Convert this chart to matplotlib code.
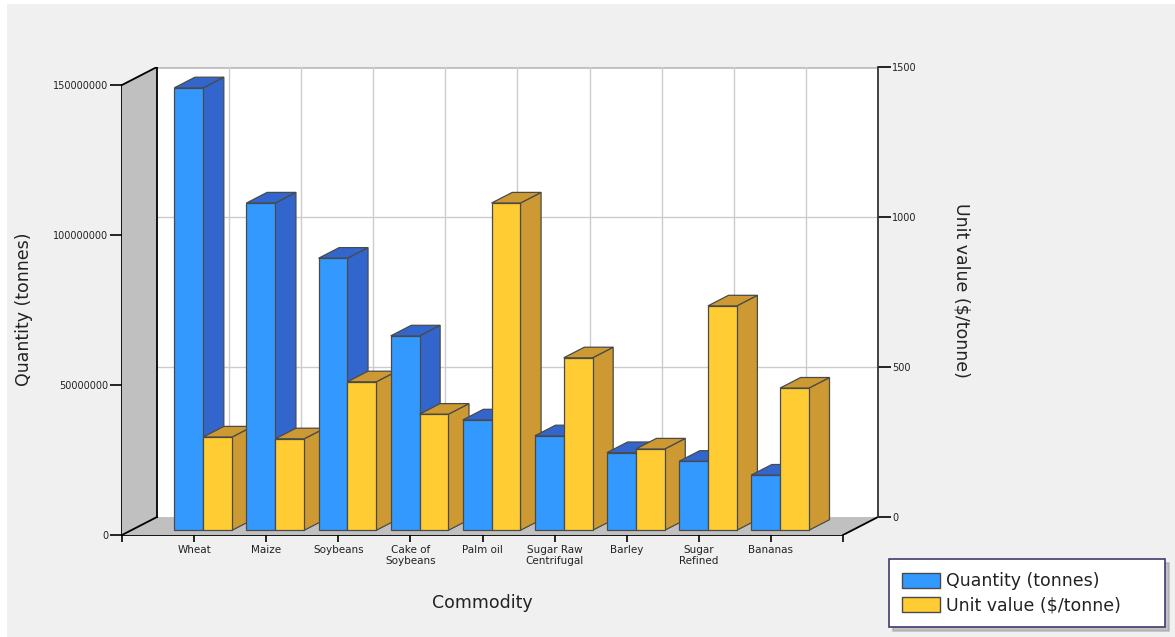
import matplotlib.pyplot as plt
from matplotlib.patches import Polygon, Patch, Rectangle

commodities = ['Wheat', 'Maize', 'Soybeans', 'Cake of\nSoybeans', 'Palm oil',
               'Sugar Raw\nCentrifugal', 'Barley', 'Sugar\nRefined', 'Bananas']
quantity = [147.5e6, 109.1e6, 90.7e6, 64.8e6, 36.8e6, 31.5e6, 25.9e6, 23.0e6, 18.4e6]
unit_value = [311, 305, 495, 387, 1091, 575, 271, 748, 474]
q_ticks = [0, 50e6, 100e6, 150e6]
q_labels = ['0', '50000000', '100000000', '150000000']
v_ticks = [0, 500, 1000, 1500]

# fake 3d: depth shift of the back wall
dx = 0.485     # in category units
dyq = 6e6      # on quantity scale
dyv = 60       # on unit value scale
z0, z1 = 0.26, 0.85   # depth of bar front / back
w = 0.4

blue, blue_d = '#3399ff', '#3366cc'
yel, yel_d = '#ffcc33', '#cc9933'
edge = '#4a4a4a'
txt = '#222222'

fig = plt.figure(figsize=(11.75, 6.37), dpi=100, facecolor='white')
fig.patches.append(Rectangle((7 / 1175, 0), 1, 633 / 637, transform=fig.transFigure,
                             facecolor='#f0f0f0', edgecolor='none', zorder=-10))
ax = fig.add_axes([122 / 1175, 102 / 637, 756 / 1175, 468 / 637])
ax.patch.set_visible(False)
ax2 = ax.twinx()
ax.set_xlim(0, 10 + dx)
ax.set_ylim(0, 150e6 + dyq)
ax2.set_ylim(-dyv, 1500)

# back wall + grid
ax.add_patch(Polygon([(dx, dyq), (10 + dx, dyq), (10 + dx, 150e6 + dyq), (dx, 150e6 + dyq)],
                     facecolor='white', edgecolor='none', zorder=1))
for q in q_ticks[1:-1]:
    ax.plot([dx, 10 + dx], [q + dyq] * 2, color='#cccccc', lw=1, zorder=2)
ax.plot([dx, 10 + dx], [150e6 + dyq] * 2, color='#c0c0c0', lw=2, zorder=2)
for k in range(1, 10):
    ax.plot([dx + k] * 2, [dyq, 150e6 + dyq], color='#cccccc', lw=1, zorder=2)

# left wall and floor
ax.add_patch(Polygon([(0, 0), (dx, dyq), (dx, 150e6 + dyq), (0, 150e6)],
                     facecolor='#c0c0c0', edgecolor='none', zorder=3))
ax.add_patch(Polygon([(0, 0), (10, 0), (10 + dx, dyq), (dx, dyq)],
                     facecolor='#c0c0c0', edgecolor='none', zorder=3))
ax.plot([0, dx], [150e6, 150e6 + dyq], color='black', lw=1.3, zorder=4)
ax.plot([dx, dx], [dyq, 150e6 + dyq], color='black', lw=1.3, zorder=4)
ax.plot([0, dx], [0, dyq], color='black', lw=1.3, zorder=4)
ax.plot([10, 10 + dx], [0, dyq], color='black', lw=1.3, zorder=4)


def box(xl, xr, val, base, dy, tr, c_front, c_dark, zo):
    fx0, fx1 = xl + z0 * dx, xr + z0 * dx
    fy0, fy1 = base + z0 * dy, base + val + z0 * dy
    ddx, ddy = (z1 - z0) * dx, (z1 - z0) * dy
    faces = [
        ([(fx1, fy0), (fx1 + ddx, fy0 + ddy), (fx1 + ddx, fy1 + ddy), (fx1, fy1)], c_dark),
        ([(fx0, fy1), (fx1, fy1), (fx1 + ddx, fy1 + ddy), (fx0 + ddx, fy1 + ddy)], c_dark),
        ([(fx0, fy0), (fx1, fy0), (fx1, fy1), (fx0, fy1)], c_front),
    ]
    for pts, col in faces:
        ax.add_patch(Polygon(pts, closed=True, facecolor=col, edgecolor=edge,
                             lw=0.9, transform=tr, zorder=zo))


for i in range(len(commodities)):
    c = i + 1
    box(c - w, c, quantity[i], 0, dyq, ax.transData, blue, blue_d, 10 + 2 * i)
    box(c, c + w, unit_value[i], -dyv, dyv, ax2.transData, yel, yel_d, 11 + 2 * i)

# axes
for s in ['top', 'right']:
    ax.spines[s].set_visible(False)
for s in ['top', 'left', 'bottom']:
    ax2.spines[s].set_visible(False)
ax.spines['left'].set_bounds(0, 150e6)
ax.spines['bottom'].set_bounds(0, 10)
ax.spines['left'].set_linewidth(1.3)
ax.spines['bottom'].set_linewidth(1.3)
ax2.spines['right'].set_bounds(0, 1500)
ax2.spines['right'].set_linewidth(1.3)
ax2.spines['right'].set_color('#333333')

ax.set_yticks(q_ticks, q_labels)
ax.set_xticks(range(0, 11), [''] + commodities + [''])
ax2.set_yticks(v_ticks, [str(v) for v in v_ticks])
ax.tick_params(axis='y', length=9, width=1.2, pad=1, labelsize=7, labelcolor=txt)
ax.tick_params(axis='x', length=5, width=1.2, pad=2, labelsize=7.5, labelcolor=txt)
ax2.tick_params(axis='y', length=9, width=1.2, pad=1, labelsize=7, labelcolor=txt)

ax.text(-0.13, 0.483, 'Quantity (tonnes)', transform=ax.transAxes, rotation=90,
        ha='center', va='center', fontsize=12.5, color=txt)
ax.text(1.111, 0.523, 'Unit value ($/tonne)', transform=ax.transAxes, rotation=-90,
        ha='center', va='center', fontsize=12.5, color=txt)
ax.text(0.476, -0.145, 'Commodity', transform=ax.transAxes,
        ha='center', va='center', fontsize=12.5, color=txt)

handles = [Patch(facecolor=blue, edgecolor=edge), Patch(facecolor=yel, edgecolor=edge)]
leg = fig.legend(handles, ['Quantity (tonnes)', 'Unit value ($/tonne)'],
                 loc='upper left', bbox_to_anchor=(889 / 1175, 10 / 637, 276 / 1175, 68 / 637),
                 mode='expand', fancybox=False, fontsize=12.5,
                 shadow={'color': '#a0a0a0', 'alpha': 0.6, 'ox': 3, 'oy': -3},
                 edgecolor='#3c3c6e', framealpha=1, handlelength=2.2, handleheight=0.95,
                 borderpad=0.75, labelspacing=0.35, handletextpad=0.35, borderaxespad=0)
leg.get_frame().set_linewidth(1.2)
for t in leg.get_texts():
    t.set_color(txt)

plt.savefig('out.png', dpi=100)
